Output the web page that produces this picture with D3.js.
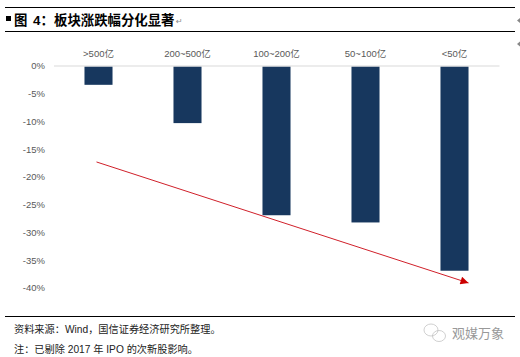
<!DOCTYPE html>
<html><head><meta charset="utf-8">
<script src="https://cdn.jsdelivr.net/npm/d3@7/dist/d3.min.js"></script>
<style>html,body{margin:0;padding:0;background:#fff}svg{display:block}</style>
</head><body><div id="c"></div>
<script>
const categories = [">500亿","200~500亿","100~200亿","50~100亿","<50亿"];
const values = [-3.3,-10.2,-26.8,-28.1,-36.8];
const yTicks = [0,-5,-10,-15,-20,-25,-30,-35,-40];
const titleLabel = "图";
const titleNumber = "4\uFF1A";
const titleBody = "板块涨跌幅分化显著";
const notes = ["资料来源\uFF1AWind\uFF0C国信证券经济研究所整理\u3002","注\uFF1A已剔除 2017 年 IPO 的次新股影响\u3002"];
const watermark = "观媒万象";
const arrowFrom = {cat:0, v:-17.2, off:-2};
const arrowTo = {cat:4, v:-39, off:14};

const svg = d3.select("#c").append("svg").attr("width",520).attr("height",357);
const sans = "'Liberation Sans','Noto Sans CJK SC',sans-serif";
const cjk = "'Liberation Sans','Noto Sans CJK SC',sans-serif";
const x = d3.scaleBand().domain(categories).range([54,499]).paddingInner(0.685).paddingOuter(0.3425);
const y = d3.scaleLinear().domain([0,-40]).range([66.5,288.5]);

[7,31,316].forEach(py=>svg.append("line").attr("x1",5).attr("x2",515).attr("y1",py+0.5).attr("y2",py+0.5).attr("stroke","#000").attr("stroke-width",1));

svg.append("rect").attr("x",6).attr("y",16).attr("width",5).attr("height",5).attr("fill","#000");
const title = [[titleLabel,14],[titleNumber,33],[titleBody,54]];
title.forEach(([t,px])=>svg.append("text").attr("x",px).attr("y",24.5).attr("font-family",cjk).attr("font-size",13.4).attr("font-weight",700).attr("fill","#000").text(t));
svg.append("text").attr("x",176).attr("y",24).attr("font-family","'DejaVu Sans'").attr("font-size",8).attr("fill","#888").text("↵");

svg.selectAll("rect.bar").data(values).join("rect").attr("class","bar")
  .attr("x",(d,i)=>x(categories[i])).attr("width",x.bandwidth())
  .attr("y",y(0)).attr("height",d=>y(d)-y(0)).attr("fill","#17375e");

svg.append("line").attr("x1",54).attr("x2",499.5).attr("y1",66).attr("y2",66).attr("stroke","#d9d9d9").attr("stroke-width",1);

const yAxis = d3.axisLeft(y).tickValues(yTicks).tickFormat(d=>d+"%").tickSize(0).tickPadding(9);
const gy = svg.append("g").attr("transform","translate(54,0)").call(yAxis);
gy.select(".domain").remove();
gy.selectAll("text").attr("font-family",sans).attr("font-size",9.5).attr("fill","#595959").attr("dy","0.3em").attr("y",-0.5);

const xAxis = d3.axisTop(x).tickSize(0).tickPadding(9);
const gx = svg.append("g").attr("transform","translate(0,66)").call(xAxis);
gx.select(".domain").remove();
gx.selectAll("text").attr("font-family",sans).attr("font-size",9.5).attr("fill","#595959");

const defs = svg.append("defs");
defs.append("marker").attr("id","ah").attr("viewBox","0 0 10 10").attr("refX",10).attr("refY",5)
  .attr("markerWidth",11).attr("markerHeight",8).attr("markerUnits","userSpaceOnUse").attr("orient","auto")
  .append("path").attr("d","M0,0L10,5L0,10Z").attr("fill","#cc0000");
const ax = c => x(categories[c.cat]) + x.bandwidth()/2 + c.off;
svg.append("line").attr("x1",ax(arrowFrom)).attr("y1",y(arrowFrom.v)).attr("x2",ax(arrowTo)).attr("y2",y(arrowTo.v))
  .attr("stroke","#d0202a").attr("stroke-width",1).attr("marker-end","url(#ah)");

notes.forEach((t,i)=>svg.append("text").attr("x",14).attr("y",[333,353][i]).attr("font-family",cjk).attr("font-size",10.2).attr("fill","#222").text(t));

const wm = svg.append("g").attr("fill","none").attr("stroke","#bbb").attr("stroke-width",0.7);
wm.append("ellipse").attr("cx",431).attr("cy",330).attr("rx",7).attr("ry",6);
wm.append("ellipse").attr("cx",439).attr("cy",336).attr("rx",6.5).attr("ry",5.5);
svg.append("text").attr("x",452).attr("y",338).attr("font-family",cjk).attr("font-size",13).attr("fill","#999").text(watermark);

[20.5,44].forEach(py=>svg.append("path").attr("d",`M517,${py}l3,-2.5v5Z`).attr("fill","#888"));
</script></body></html>
